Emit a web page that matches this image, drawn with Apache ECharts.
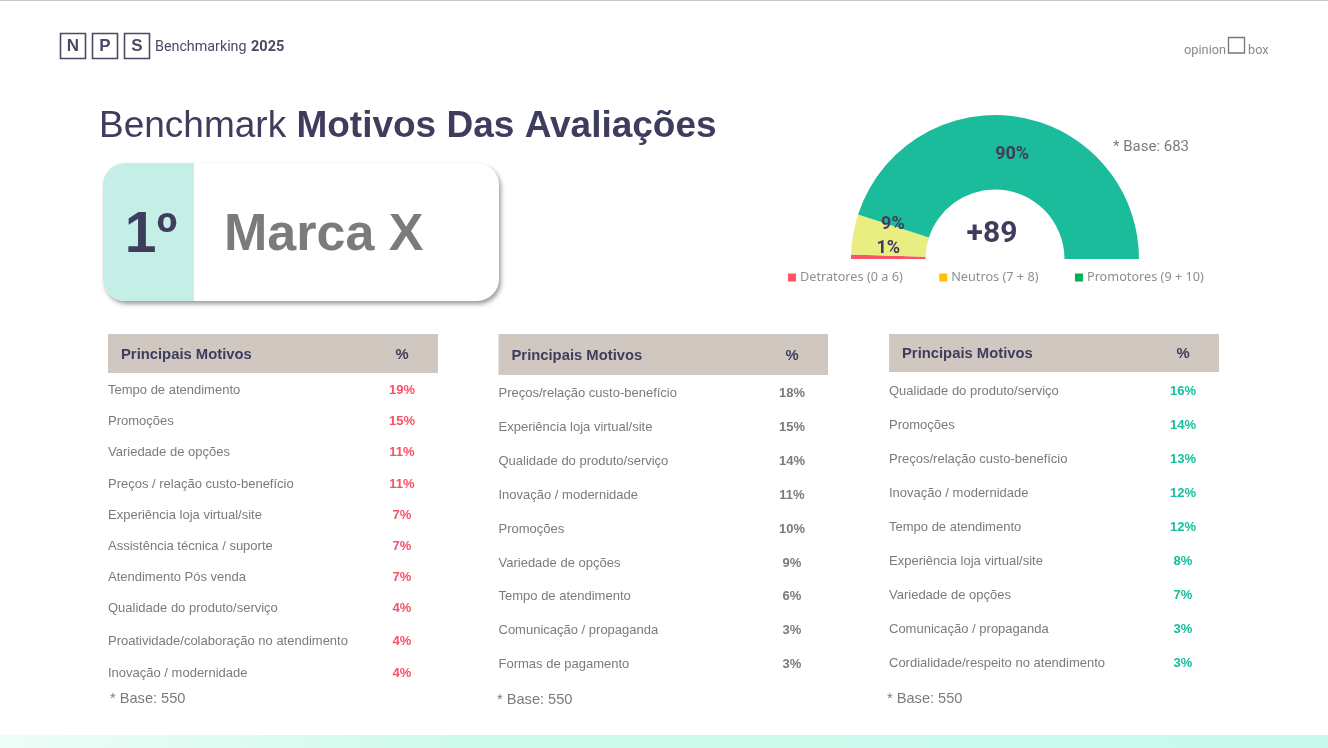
<!DOCTYPE html>
<html>
<head>
    <meta charset="utf-8">
    <title>Benchmark Motivos Das Avaliações</title>
    <script src="https://cdn.jsdelivr.net/npm/echarts@6/dist/echarts.min.js"></script>
    <style>
        html, body { margin: 0; padding: 0; background: #fff; }
    </style>
</head>
<body>
    <div id="main" style="width: 1328px;height:748px;"></div>
    <script type="text/javascript">
        // nps
        var npsNames = ['Detratores (0 a 6)', 'Neutros (7 + 8)', 'Promotores (9 + 10)'];
        var npsValues = [1, 9, 90];
        var npsScore = '+89';
        var npsBase = '* Base: 683';

        // tabelas
        var detratoresMotivos = ['Tempo de atendimento', 'Promoções', 'Variedade de opções', 'Preços / relação custo-benefício', 'Experiência loja virtual/site', 'Assistência técnica / suporte', 'Atendimento Pós venda', 'Qualidade do produto/serviço', 'Proatividade/colaboração no atendimento', 'Inovação / modernidade'];
        var detratoresValores = [19, 15, 11, 11, 7, 7, 7, 4, 4, 4];
        var neutrosMotivos = ['Preços/relação custo-benefício', 'Experiência loja virtual/site', 'Qualidade do produto/serviço', 'Inovação / modernidade', 'Promoções', 'Variedade de opções', 'Tempo de atendimento', 'Comunicação / propaganda', 'Formas de pagamento'];
        var neutrosValores = [18, 15, 14, 11, 10, 9, 6, 3, 3];
        var promotoresMotivos = ['Qualidade do produto/serviço', 'Promoções', 'Preços/relação custo-benefício', 'Inovação / modernidade', 'Tempo de atendimento', 'Experiência loja virtual/site', 'Variedade de opções', 'Comunicação / propaganda', 'Cordialidade/respeito no atendimento'];
        var promotoresValores = [16, 14, 13, 12, 12, 8, 7, 3, 3];
        var tabelaBase = '* Base: 550';

        var escuro = '#3f3d5e';
        var cinza = '#7b7b7b';
        var arial = '"Liberation Sans", Arial, sans-serif';

        var graphics = [];

        function addText(x, y, text, size, color, weight, align, family) {
            graphics.push({
                type: 'text', x: x, y: y + 2,
                style: {
                    text: text, fill: color, align: align || 'left', verticalAlign: 'middle',
                    font: (weight || 'normal') + ' ' + size + 'px ' + (family || arial)
                }
            });
        }

        function addTable(x, w, headH, headY, baseX, baseY, pctX, pctColor, rowY, motivos, valores) {
            graphics.push({ type: 'rect', shape: { x: x, y: 334, width: w, height: headH }, style: { fill: '#d0c7c1' } });
            addText(x + 13, headY, 'Principais Motivos', 14.8, escuro, 'bold');
            addText(pctX, headY, '%', 14.8, escuro, 'bold', 'center');
            motivos.forEach(function (m, i) {
                addText(x, rowY[i], m, 13, cinza);
                addText(pctX, rowY[i], valores[i] + '%', 13, pctColor, 'bold', 'center');
            });
            addText(baseX, baseY, tabelaBase, 14.6, cinza);
        }

        // topo e faixa de baixo
        graphics.push({ type: 'rect', shape: { x: 0, y: 0, width: 1328, height: 1 }, style: { fill: '#c8c8c8' } });
        graphics.push({
            type: 'rect', shape: { x: 0, y: 735, width: 1328, height: 13 },
            style: { fill: new echarts.graphic.LinearGradient(0, 0, 1, 0, [{ offset: 0, color: '#eefdf8' }, { offset: 0.35, color: '#cdfaec' }, { offset: 1, color: '#c8faeb' }]) }
        });

        // logo NPS
        ['N', 'P', 'S'].forEach(function (l, i) {
            var x = 60.5 + i * 32;
            graphics.push({ type: 'rect', shape: { x: x, y: 33.5, width: 25, height: 25 }, style: { fill: '#fff', stroke: '#4b4966', lineWidth: 1.6 } });
            addText(x + 12.5, 44.5, l, 17, '#4b4966', 'bold', 'center');
        });
        addText(155, 45, 'Benchmarking', 14.3, '#4b4966', 'normal', 'left', 'Roboto');
        addText(251, 45, '2025', 14.5, '#4b4966', 'bold', 'left', 'Roboto');

        // logo opinion box
        addText(1184, 48.5, 'opinion', 12.8, '#8a8a8a', 'normal', 'left', 'Roboto');
        graphics.push({ type: 'rect', shape: { x: 1228.5, y: 37.5, width: 16, height: 15.5 }, style: { fill: '#fff', stroke: '#777', lineWidth: 1.3 } });
        addText(1248, 48.5, 'box', 12.8, '#8a8a8a', 'normal', 'left', 'Roboto');

        // titulo
        graphics.push({
            type: 'text', x: 99, y: 127,
            style: {
                text: '{a|Benchmark }{b|Motivos Das Avaliações}', verticalAlign: 'middle',
                rich: {
                    a: { font: 'normal 37px ' + arial, fill: escuro },
                    b: { font: 'bold 37px ' + arial, fill: escuro }
                }
            }
        });

        // cartao da marca
        graphics.push({
            type: 'rect', shape: { x: 103, y: 163, width: 396, height: 138, r: 22 },
            style: { fill: '#fff', shadowBlur: 4, shadowOffsetX: 2, shadowOffsetY: 3, shadowColor: 'rgba(0,0,0,0.38)' }
        });
        graphics.push({ type: 'rect', shape: { x: 103, y: 163, width: 91, height: 138, r: [22, 0, 0, 22] }, style: { fill: '#c4eee6' } });
        addText(151, 234, '1º', 57, escuro, 'bold', 'center');
        addText(224, 234, 'Marca X', 52, cinza, 'bold');

        addTable(108, 330, 39, 353, 110, 697, 402, '#f75264', [388, 419, 450, 482, 513, 544, 575, 606, 639, 671], detratoresMotivos, detratoresValores);
        addTable(498.5, 329.5, 41, 354, 497, 698, 792, '#7b7b7b', [391, 425, 459, 493, 527, 561, 594, 628, 662], neutrosMotivos, neutrosValores);
        addTable(889, 330, 38, 352, 887, 697, 1183, '#14bf9b', [389, 423, 457, 491, 525, 559, 593, 627, 661], promotoresMotivos, promotoresValores);

        // nps
        addText(1113, 145, npsBase, 15, cinza, 'normal', 'left', 'Roboto');
        addText(992, 232, npsScore, 30, escuro, 'bold', 'center', 'Roboto');

        var sliceColors = ['#f95566', '#e8ee7f', '#1bbc9b'];
        var legendColors = ['#ff5264', '#ffc000', '#00b050'];
        var labelOffsets = [[3, -9], [6, -16], [0, 4]];

        var myChart = echarts.init(document.getElementById('main'));
        myChart.setOption({
            animation: false,
            legend: {
                left: 783, top: 266, itemWidth: 8, itemHeight: 8, itemGap: 36.5, icon: 'rect',
                selectedMode: false,
                textStyle: { color: '#8f8f8f', fontSize: 12.7, fontFamily: '"Noto Sans"', padding: [0, 0, 0, -1] },
                data: npsNames.map(function (n, i) {
                    return { name: n, itemStyle: { color: legendColors[i] } };
                })
            },
            series: [{
                type: 'pie',
                center: [995, 259],
                radius: [69.5, 144],
                startAngle: 180,
                endAngle: 0,
                clockwise: true,
                z: 1,
                label: {
                    position: 'inside', color: escuro, fontFamily: 'Roboto', fontWeight: 'bold', fontSize: 18,
                    formatter: '{c}%'
                },
                labelLine: { show: false },
                emphasis: { disabled: true },
                data: npsNames.map(function (n, i) {
                    return {
                        name: n, value: npsValues[i],
                        itemStyle: { color: sliceColors[i] },
                        label: { offset: labelOffsets[i] }
                    };
                })
            }],
            graphic: { elements: graphics }
        });
    </script>
</body>
</html>
